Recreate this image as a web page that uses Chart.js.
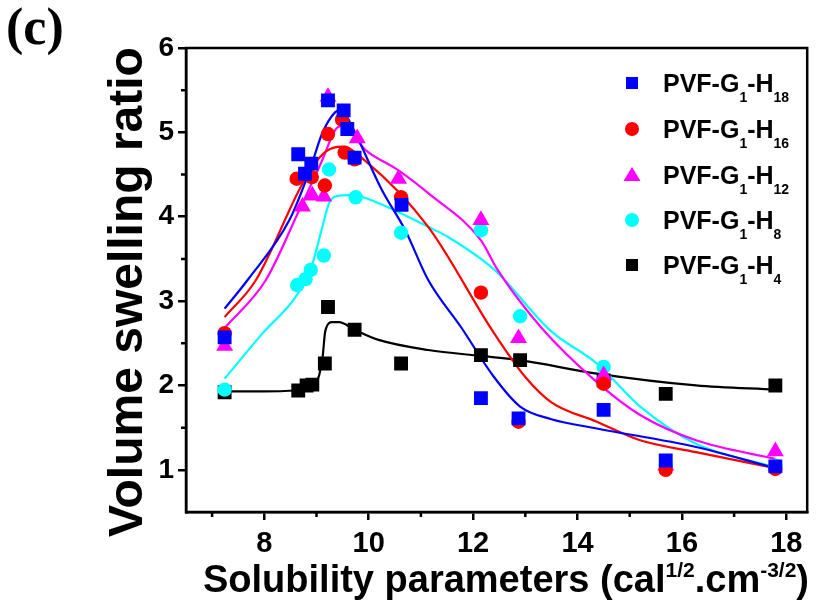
<!DOCTYPE html>
<html>
<head>
<meta charset="utf-8">
<script src="https://cdn.jsdelivr.net/npm/chart.js@4.4.1/dist/chart.umd.min.js"></script>
<style>
  html, body { margin: 0; padding: 0; background: #fff; }
</style>
</head>
<body>
<canvas id="swell" width="817" height="602"></canvas>
<script>
// measured points, x = solubility parameter, y = volume swelling ratio
var h18X = [7.24, 8.65, 8.78, 8.90, 9.22, 9.52, 9.59, 9.73, 10.63, 12.15, 12.87, 14.5, 15.69, 17.79];
var h18Y = [2.57, 4.74, 4.51, 4.63, 5.38, 5.26, 5.04, 4.70, 4.14, 1.85, 1.61, 1.71, 1.11, 1.04];

var h16X = [7.24, 8.62, 8.91, 9.16, 9.22, 9.49, 9.54, 9.73, 10.62, 12.15, 12.87, 14.5, 15.69, 17.79];
var h16Y = [2.62, 4.45, 4.47, 4.37, 4.98, 5.15, 4.76, 4.68, 4.23, 3.10, 1.57, 2.02, 1.00, 1.01];

var h12X = [7.24, 8.73, 8.92, 9.14, 9.22, 9.78, 10.57, 12.15, 12.87, 14.5, 15.69, 17.79];
var h12Y = [2.47, 4.12, 4.25, 4.24, 5.42, 4.93, 4.45, 3.96, 2.56, 2.12, 1.05, 1.22];

var h8X = [7.24, 8.63, 8.79, 8.89, 9.14, 9.24, 9.75, 10.62, 12.15, 12.9, 14.5, 15.69, 17.79];
var h8Y = [1.95, 3.19, 3.26, 3.37, 3.54, 4.56, 4.23, 3.81, 3.84, 2.82, 2.22, 1.05, 1.05];

var h4X = [7.24, 8.65, 8.81, 8.92, 9.16, 9.22, 9.73, 10.62, 12.15, 12.9, 14.5, 15.69, 17.79];
var h4Y = [1.92, 1.94, 2.00, 2.01, 2.26, 2.93, 2.66, 2.26, 2.36, 2.30, 2.06, 1.90, 2.00];

// fitted curves
var h18FitX = [7.24, 7.68, 8.48, 8.87, 9.11, 9.36, 9.48, 9.68, 10.25, 10.7, 11.14, 11.77, 12.4, 12.9, 13.5, 14.37, 16.27, 17.79];
var h18FitY = [2.91, 3.25, 3.96, 4.55, 4.99, 5.24, 5.27, 5.07, 4.32, 3.84, 3.25, 2.69, 2.10, 1.75, 1.60, 1.49, 1.27, 1.02];

var h16FitX = [7.24, 7.84, 8.67, 8.92, 9.17, 9.49, 9.94, 11.14, 12.37, 13.0, 13.5, 14.37, 15.2, 16.27, 17.79];
var h16FitY = [2.81, 3.25, 4.32, 4.59, 4.77, 4.83, 4.66, 3.88, 2.65, 2.10, 1.80, 1.57, 1.35, 1.21, 1.02];

var h12FitX = [7.24, 8.03, 8.67, 9.11, 9.36, 9.50, 9.94, 10.57, 11.14, 12.15, 12.47, 13.3, 14.37, 15.2, 16.27, 17.79];
var h12FitY = [2.68, 3.25, 4.08, 4.67, 5.03, 5.08, 4.79, 4.55, 4.28, 3.72, 3.37, 2.69, 2.04, 1.65, 1.35, 1.13];

var h8FitX = [7.24, 7.97, 8.6, 8.9, 9.1, 9.24, 9.36, 9.68, 10.19, 11.14, 11.52, 12.41, 13.48, 14.37, 15.2, 16.27, 17.79];
var h8FitY = [2.08, 2.62, 3.05, 3.40, 3.85, 4.16, 4.24, 4.26, 4.16, 3.88, 3.76, 3.37, 2.65, 2.26, 1.75, 1.31, 1.03];

var h4FitX = [7.24, 8.0, 8.65, 8.98, 9.11, 9.17, 9.3, 9.43, 9.73, 10.19, 11.14, 12.15, 12.9, 14.37, 16.27, 17.79];
var h4FitY = [1.93, 1.93, 1.94, 2.02, 2.30, 2.65, 2.75, 2.75, 2.66, 2.54, 2.42, 2.35, 2.30, 2.14, 2.00, 1.95];

var xTicks = [8, 10, 12, 14, 16, 18];
var xMinor = [7, 9, 11, 13, 15, 17];
var yTicks = [1, 2, 3, 4, 5, 6];
var yMinor = [1.5, 2.5, 3.5, 4.5, 5.5];

var seriesNames = ['18', '16', '12', '8', '4'];
var seriesColors = ['#0000FF', '#FF0000', '#FF00FF', '#00FFFF', '#000000'];
var seriesShapes = ['rect', 'circle', 'triangle', 'circle', 'rect'];

function pts(xs, ys) {
  return xs.map(function (v, i) { return { x: v, y: ys[i] }; });
}

var pointSets = [pts(h18X, h18Y), pts(h16X, h16Y), pts(h12X, h12Y), pts(h8X, h8Y), pts(h4X, h4Y)];
var fitSets = [pts(h18FitX, h18FitY), pts(h16FitX, h16FitY), pts(h12FitX, h12FitY), pts(h8FitX, h8FitY), pts(h4FitX, h4FitY)];

var datasets = [];
for (var i = 0; i < 5; i++) {
  var r = seriesShapes[i] == 'circle' ? 7.2 : 9.8;
  datasets.push({
    label: 'PVF-G1-H' + seriesNames[i],
    data: pointSets[i],
    showLine: false,
    pointStyle: seriesShapes[i],
    pointRadius: r,
    backgroundColor: seriesColors[i],
    borderColor: seriesColors[i],
    borderWidth: 0,
    order: i + 1
  });
}
for (var i = 0; i < 5; i++) {
  datasets.push({
    label: 'fit H' + seriesNames[i],
    data: fitSets[i],
    showLine: true,
    pointRadius: 0,
    borderColor: seriesColors[i],
    borderWidth: 2.2,
    cubicInterpolationMode: 'monotone',
    order: i + 6
  });
}

var SANS = '"Liberation Sans", Arial, sans-serif';

// text with sub/superscript pieces
function richText(ctx, parts, x, y, size) {
  var small = Math.round(size * 0.55);
  var w = 0;
  parts.forEach(function (p) {
    ctx.font = 'bold ' + (p.s ? small : size) + 'px ' + SANS;
    w += ctx.measureText(p.t).width;
  });
  var cx = x;
  parts.forEach(function (p) {
    ctx.font = 'bold ' + (p.s ? small : size) + 'px ' + SANS;
    var dy = p.s == 1 ? -size * 0.4 : (p.s == -1 ? size * 0.38 : 0);
    ctx.fillText(p.t, cx, y + dy);
    cx += ctx.measureText(p.t).width;
  });
  return w;
}

var decor = {
  id: 'decor',
  afterDraw: function (chart) {
    var ctx = chart.ctx, a = chart.chartArea;
    var xs = chart.scales.x, ys = chart.scales.y;
    ctx.save();
    ctx.strokeStyle = '#000';
    ctx.lineWidth = 2.5;
    ctx.strokeRect(a.left, a.top, a.right - a.left, a.bottom - a.top);

    // minor ticks
    ctx.beginPath();
    xMinor.forEach(function (v) {
      var px = xs.getPixelForValue(v);
      ctx.moveTo(px, a.bottom); ctx.lineTo(px, a.bottom + 5);
    });
    yMinor.forEach(function (v) {
      var py = ys.getPixelForValue(v);
      ctx.moveTo(a.left, py); ctx.lineTo(a.left - 5, py);
    });
    ctx.stroke();

    ctx.fillStyle = '#000';
    ctx.textBaseline = 'alphabetic';
    ctx.textAlign = 'left';

    // (c)
    ctx.font = 'bold 52px "Liberation Serif", "Times New Roman", serif';
    ctx.fillText('(c)', 6, 44);

    // x title
    var xParts = [{ t: 'Solubility parameters (cal' }, { t: '1/2', s: 1 }, { t: '.cm' }, { t: '-3/2', s: 1 }, { t: ')' }];
    var tw = richText(ctx, xParts, -1000, -1000, 38);
    richText(ctx, xParts, 506 - tw / 2, 592, 38);

    // y title
    ctx.save();
    ctx.translate(142, 292);
    ctx.rotate(-Math.PI / 2);
    ctx.font = 'bold 48px ' + SANS;
    ctx.textAlign = 'center';
    ctx.fillText('Volume swelling ratio', 0, 0);
    ctx.restore();

    // legend
    var rowY = [83, 129, 175, 220, 265];
    for (var i = 0; i < 5; i++) {
      var mx = 632, my = rowY[i];
      ctx.fillStyle = seriesColors[i];
      ctx.beginPath();
      if (seriesShapes[i] == 'rect') {
        ctx.rect(mx - 6, my - 6, 12, 12);
      } else if (seriesShapes[i] == 'circle') {
        ctx.arc(mx, my, 7, 0, Math.PI * 2);
      } else {
        ctx.moveTo(mx, my - 8); ctx.lineTo(mx + 8.5, my + 6); ctx.lineTo(mx - 8.5, my + 6); ctx.closePath();
      }
      ctx.fill();
      ctx.fillStyle = '#000';
      richText(ctx, [{ t: 'PVF-G' }, { t: '1', s: -1 }, { t: '-H' }, { t: seriesNames[i], s: -1 }], 663, my + 9, 25);
    }
    ctx.restore();
  }
};

var config = {
  type: 'scatter',
  data: { datasets: datasets },
  options: {
    responsive: false,
    animation: false,
    devicePixelRatio: 1,
    layout: { padding: { top: 48, right: 4, left: 0, bottom: 0 } },
    plugins: {
      legend: { display: false },
      tooltip: { enabled: false },
      title: { display: false }
    },
    scales: {
      x: {
        type: 'linear',
        min: 6.5,
        max: 18.4,
        afterFit: function (s) { s.height = 90; },
        afterBuildTicks: function (s) { s.ticks = xTicks.map(function (v) { return { value: v }; }); },
        grid: { display: true, drawOnChartArea: false, drawTicks: true, tickLength: 8, color: '#000', lineWidth: 2.5 },
        border: { display: true, color: '#000', width: 2.5 },
        ticks: { color: '#000', padding: 7, maxRotation: 0, font: { family: SANS, size: 29, weight: 'bold' } }
      },
      y: {
        type: 'linear',
        min: 0.5,
        max: 6,
        afterFit: function (s) { s.width = 186; },
        afterBuildTicks: function (s) { s.ticks = yTicks.map(function (v) { return { value: v }; }); },
        grid: { display: true, drawOnChartArea: false, drawTicks: true, tickLength: 8, color: '#000', lineWidth: 2.5 },
        border: { display: true, color: '#000', width: 2.5 },
        ticks: { color: '#000', padding: 4, font: { family: SANS, size: 28, weight: 'bold' } }
      }
    }
  },
  plugins: [decor]
};

window.onload = function () {
  window.swellChart = new Chart(document.getElementById('swell'), config);
};
</script>
</body>
</html>
